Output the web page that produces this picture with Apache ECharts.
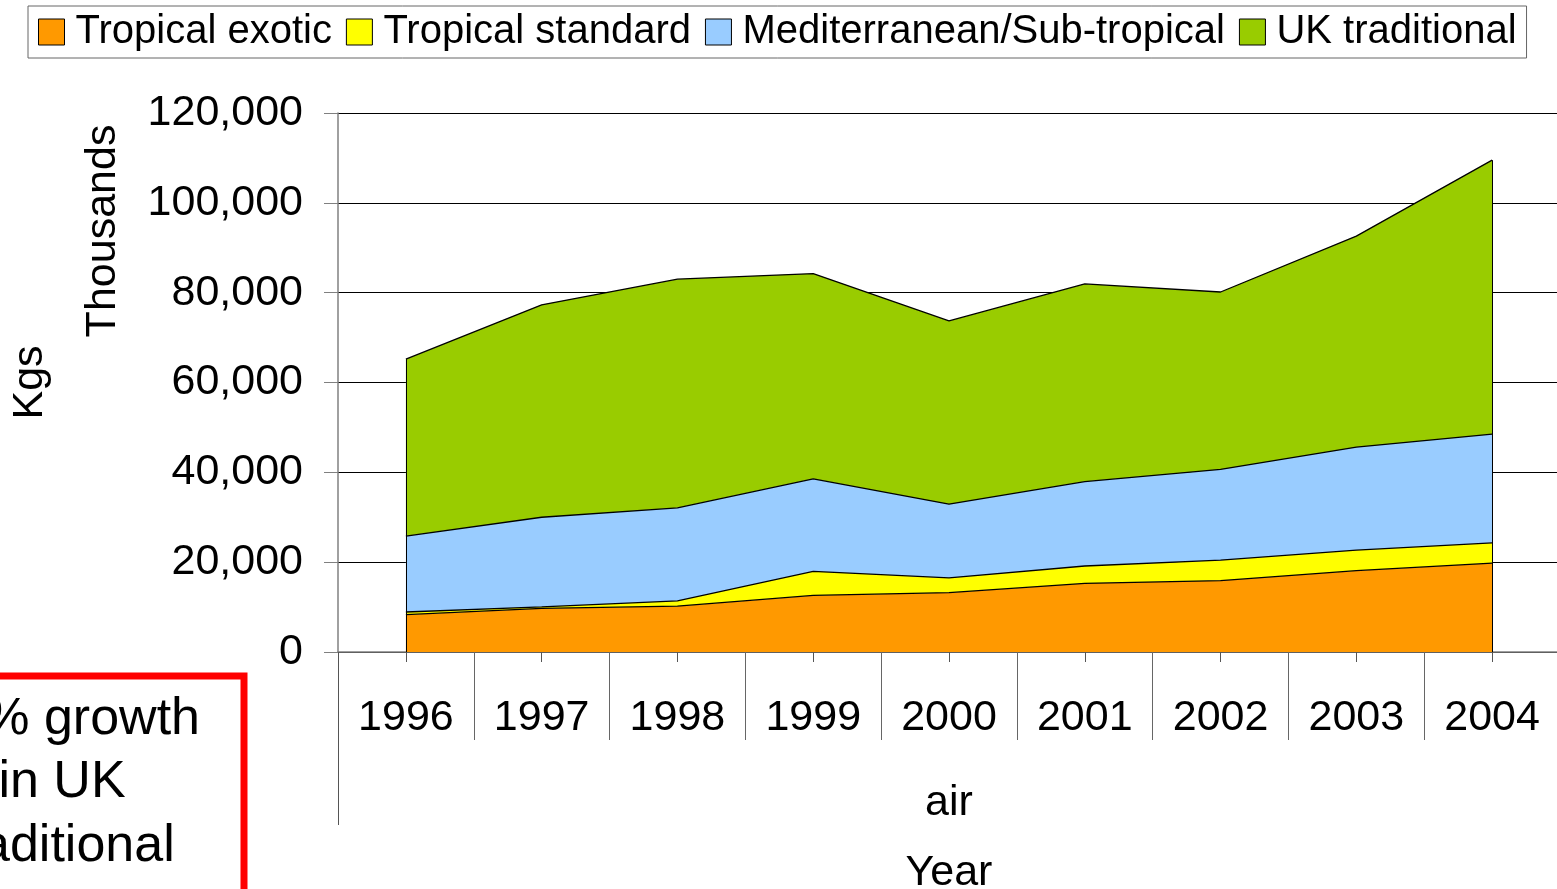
<!DOCTYPE html>
<html>
<head>
<meta charset="utf-8">
<script src="https://cdn.jsdelivr.net/npm/echarts@6/dist/echarts.min.js"></script>
<style>
html,body{margin:0;padding:0;background:#fff}
#chart{width:1557px;height:889px}
</style>
</head>
<body>
<div id="chart"></div>
<script>
// air freight, thousands of kgs, stacked
var years = ['1996', '1997', '1998', '1999', '2000', '2001', '2002', '2003', '2004'];
var tropicalExotic = [8300, 9700, 10200, 12600, 13200, 15300, 15900, 18100, 19800];
var tropicalStandard = [600, 350, 1200, 5350, 3300, 3850, 4550, 4600, 4500];
var mediterranean = [16900, 19950, 20700, 20600, 16400, 18800, 20200, 22900, 24200];
var ukTraditional = [39400, 47300, 50900, 45700, 40800, 44000, 39500, 47000, 61000];
var seriesNames = ['Tropical exotic', 'Tropical standard', 'Mediterranean/Sub-tropical', 'UK traditional'];
var seriesColors = ['#FF9900', '#FFFF00', '#99CCFF', '#99CC00'];

var FONT = '"Liberation Sans", Arial, sans-serif';
var chart = echarts.init(document.getElementById('chart'));

var values = [tropicalExotic, tropicalStandard, mediterranean, ukTraditional];
var last = years.length - 1;
function total(i) {
    return tropicalExotic[i] + tropicalStandard[i] + mediterranean[i] + ukTraditional[i];
}

var series = values.map(function (d, k) {
    var s = {
        name: seriesNames[k],
        type: 'line',
        stack: 'kgs',
        data: d,
        symbol: 'none',
        lineStyle: {color: '#000', width: 1.3},
        areaStyle: {color: seriesColors[k], opacity: 1},
        itemStyle: {color: seriesColors[k]},
        emphasis: {disabled: true}
    };
    if (k === values.length - 1) {
        // closing edges of the area at first and last year
        s.markLine = {
            silent: true,
            symbol: 'none',
            label: {show: false},
            lineStyle: {color: '#000', width: 1, type: 'solid'},
            data: [
                [{coord: [years[0], 0]}, {coord: [years[0], total(0)]}],
                [{coord: [years[last], 0]}, {coord: [years[last], total(last)]}]
            ]
        };
    }
    return s;
});

var option = {
    animation: false,
    legend: {
        left: 28,
        top: 6,
        padding: [6, 10, 6, 10],
        borderColor: '#666',
        borderWidth: 1,
        itemWidth: 26,
        itemHeight: 26,
        itemGap: 14,
        icon: 'rect',
        textStyle: {fontFamily: FONT, fontSize: 40, color: '#000', padding: [0, 0, 0, 6]},
        data: seriesNames.map(function (n, k) {
            return {name: n, itemStyle: {color: seriesColors[k], borderColor: '#000', borderWidth: 1}};
        })
    },
    grid: {left: 338, top: 113, width: 1222, height: 539, containLabel: false, outerBoundsMode: 'none'},
    xAxis: [
        {
            type: 'category',
            data: years,
            boundaryGap: true,
            name: 'Year',
            nameLocation: 'middle',
            nameGap: 200,
            nameTextStyle: {fontFamily: FONT, fontSize: 43, color: '#000'},
            axisLine: {show: true, lineStyle: {color: '#808080', width: 1.5}},
            axisTick: {show: true, alignWithLabel: true, length: 10, lineStyle: {color: '#555', width: 1}},
            axisLabel: {interval: 0, margin: 45, fontFamily: FONT, fontSize: 43, color: '#000'},
            splitLine: {show: false}
        },
        {
            type: 'category',
            data: years,
            boundaryGap: true,
            position: 'bottom',
            axisLine: {show: false},
            axisTick: {show: true, interval: 0, length: 88, lineStyle: {color: '#666', width: 1}},
            axisLabel: {show: false},
            splitLine: {show: false}
        },
        {
            type: 'category',
            data: ['air'],
            boundaryGap: true,
            position: 'bottom',
            axisLine: {show: false},
            axisTick: {show: true, length: 173, lineStyle: {color: '#555', width: 1}},
            axisLabel: {margin: 130, fontFamily: FONT, fontSize: 43, color: '#000'},
            splitLine: {show: false}
        }
    ],
    yAxis: {
        type: 'value',
        min: 0,
        max: 120000,
        interval: 20000,
        name: 'Kgs',
        nameLocation: 'middle',
        nameGap: 286,
        nameTextStyle: {fontFamily: FONT, fontSize: 43, color: '#000'},
        axisLine: {show: true, lineStyle: {color: '#808080', width: 1.5}},
        axisTick: {show: true, length: 14, lineStyle: {color: '#808080'}},
        axisLabel: {
            margin: 35,
            padding: [4, 0, 0, 0],
            fontFamily: FONT,
            fontSize: 43,
            color: '#000',
            formatter: function (v) { return v.toLocaleString('en-US'); }
        },
        splitLine: {lineStyle: {color: '#000', width: 1}}
    },
    graphic: [
        {
            type: 'text',
            x: 103, y: 231,
            rotation: Math.PI / 2,
            style: {text: 'Thousands', font: '43px ' + FONT, fill: '#000', textAlign: 'center', textVerticalAlign: 'middle'}
        },
        {
            type: 'rect',
            shape: {x: -20, y: 676, width: 264, height: 260},
            style: {fill: '#fff', stroke: '#ff0000', lineWidth: 7}
        },
        {
            type: 'text', x: 200, y: 720,
            style: {text: '% growth', font: '52px ' + FONT, fill: '#000', textAlign: 'right', textVerticalAlign: 'middle'}
        },
        {
            type: 'text', x: 62, y: 783,
            style: {text: 'in UK', font: '52px ' + FONT, fill: '#000', textAlign: 'center', textVerticalAlign: 'middle'}
        },
        {
            type: 'text', x: 62, y: 847,
            style: {text: 'traditional', font: '52px ' + FONT, fill: '#000', textAlign: 'center', textVerticalAlign: 'middle'}
        }
    ],
    series: series
};

chart.setOption(option);
</script>
</body>
</html>
